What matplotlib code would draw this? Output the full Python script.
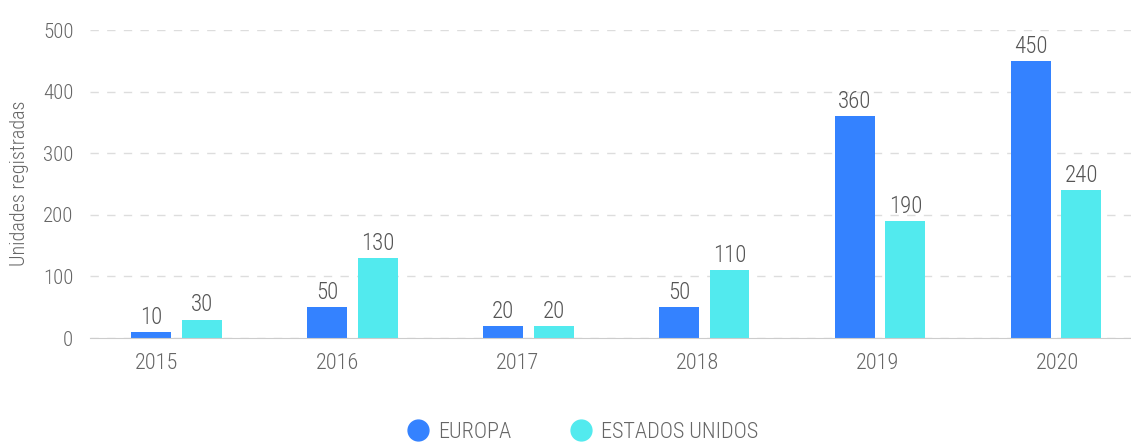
import matplotlib
matplotlib.use('Agg')
import matplotlib.pyplot as plt
import numpy as np
from matplotlib import font_manager
from matplotlib.lines import Line2D

years = ['2015', '2016', '2017', '2018', '2019', '2020']
europa = [10, 50, 20, 50, 360, 450]
estados_unidos = [30, 130, 20, 110, 190, 240]
series_names = ['EUROPA', 'ESTADOS UNIDOS']
yticks = [0, 100, 200, 300, 400, 500]

# condensed font close to the original; take the first one installed
names = {f.name for f in font_manager.fontManager.ttflist}
fam = 'DejaVu Sans'
for cand in ['Roboto Condensed', 'Fira Sans Condensed', 'Barlow Semi Condensed',
             'Encode Sans Condensed', 'Asap Condensed', 'PT Sans Narrow',
             'Archivo Narrow', 'Liberation Sans Narrow']:
    if cand in names:
        fam = cand
        break
plt.rcParams['font.family'] = [fam, 'DejaVu Sans']
plt.rcParams['font.weight'] = 'light'

blue = '#3482ff'
cyan = '#52eaee'
txt = '#666666'

fig = plt.figure(figsize=(11.31, 4.44), dpi=100)
ax = fig.add_axes([90 / 1131, 1 - 338 / 444, 1 - 90 / 1131, (338 - 30) / 444])

x = np.arange(len(years))
w = 0.227
off = 0.1435
b1 = ax.bar(x - off, europa, w, color=blue)
b2 = ax.bar(x + off, estados_unidos, w, color=cyan)

for bars, vals in ((b1, europa), (b2, estados_unidos)):
    for r, v in zip(bars, vals):
        ax.text(r.get_x() + r.get_width() / 2, v + 5, str(v), ha='center', va='bottom',
                fontsize=16.5, color='#555555', clip_on=False)

# category labels sit on a slightly wider spacing than the bar groups
ax.set_xlim(-0.492, 5.426)
ax.set_ylim(0, 500)
ax.set_xticks(x * 1.0233 - 0.111)
ax.set_xticklabels(years)
ax.set_yticks(yticks)
ax.tick_params(axis='x', length=0, labelsize=16, colors=txt, pad=11)
ax.tick_params(axis='y', length=0, labelsize=15, colors=txt, pad=12)

ax.grid(axis='y', color='#dddddd', linestyle=(0, (6, 6)), linewidth=1)
ax.set_axisbelow(True)
for s in ['top', 'right', 'left']:
    ax.spines[s].set_visible(False)
ax.spines['bottom'].set_color('#cccccc')

fig.text(20 / 1131, 1 - 183 / 444, 'Unidades registradas', rotation=90, ha='center', va='center',
         fontsize=14.5, color=txt)

handles = [Line2D([], [], marker='o', linestyle='', markersize=15, color=blue),
           Line2D([], [], marker='o', linestyle='', markersize=15, color=cyan)]
leg = fig.legend(handles, series_names, loc='center', bbox_to_anchor=(577 / 1131, 1 - 432 / 444),
                 ncol=2, frameon=False, fontsize=16, handletextpad=-0.1, columnspacing=2.1,
                 borderaxespad=0)
for t in leg.get_texts():
    t.set_color(txt)

fig.savefig('out.png', dpi=100)
